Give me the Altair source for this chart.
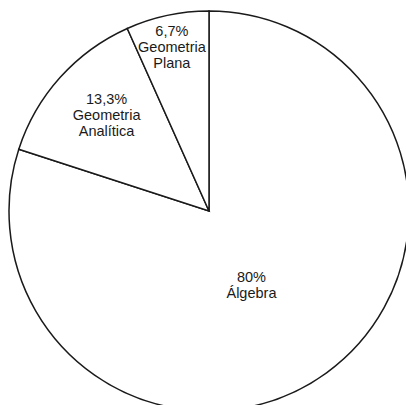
import altair as alt
import pandas as pd

categories = ["Álgebra", "Geometria Analítica", "Geometria Plana"]
values = [80, 13.3, 6.7]
pct_labels = ["80%", "13,3%", "6,7%"]
order = [0, 1, 2]

df = pd.DataFrame({"cat": categories, "val": values, "pct": pct_labels, "ord": order})

base = alt.Chart(df).encode(
    theta=alt.Theta("val:Q", stack=True),
    order=alt.Order("ord:Q"),
)

pie = base.mark_arc(
    radius=200, fill="white", stroke="#1a1a1a", strokeWidth=1.5
).encode(x=alt.value(209), y=alt.value(211))

def label(cat, r, dx=0, dy=0):
    return base.mark_text(
        radius=r, dx=dx, dy=dy, font="Liberation Sans", fontSize=14.5,
        lineHeight=16, lineBreak=" ", color="#1a1a1a",
        align="center", baseline="middle",
    ).encode(
        x=alt.value(209), y=alt.value(211),
        text="lbl:N",
    ).transform_calculate(
        lbl=f"datum.cat == '{cat}' ? datum.pct + ' ' + datum.cat : ''"
    )

chart = alt.layer(
    pie,
    label("Álgebra", 85, -7.5, -2),
    label("Geometria Analítica", 139, 1, -18),
    label("Geometria Plana", 168, -2, -15),
).properties(
    width=406, height=405, padding=0, autosize=alt.AutoSizeParams(type="none"),
    background="white",
).configure_view(stroke=None)

chart.save("out.html", embed_options={"renderer": "svg", "actions": False})
